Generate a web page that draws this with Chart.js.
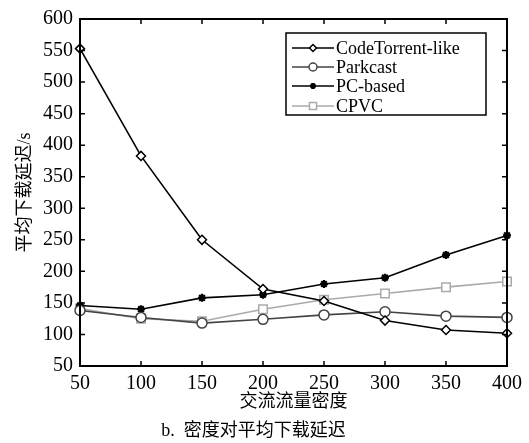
<!DOCTYPE html>
<html>
<head>
<meta charset="utf-8">
<script src="https://cdn.jsdelivr.net/npm/chart.js@4"></script>
<style>
  html, body { margin: 0; padding: 0; background: #fff; }
  #wrap { width: 529px; height: 443px; }
</style>
</head>
<body>
<div id="wrap"><canvas id="myChart" width="529" height="443"></canvas></div>
<script>
const densities = [50, 100, 150, 200, 250, 300, 350, 400];
const codeTorrent = [553, 383, 250, 172, 153, 122, 107, 102];
const parkcast = [138, 127, 118, 124, 131, 136, 129, 127];
const pcBased = [146, 140, 158, 163, 180, 190, 226, 257];
const cpvc = [141, 125, 121, 140, 155, 165, 175, 184];
const yTicks = [50, 100, 150, 200, 250, 300, 350, 400, 450, 500, 550, 600];

const serif = '"Liberation Serif", "Times New Roman", serif';
const cjk = '"Liberation Serif", "Noto Sans CJK SC", serif';

const pts = arr => arr.map((v, i) => ({ x: densities[i], y: v }));

// box + inward ticks on all four sides, and the framed legend
const framePlugin = {
  id: 'frame',
  afterDatasetsDraw(chart) {
    const { ctx, chartArea: a, scales } = chart;
    ctx.save();
    ctx.strokeStyle = '#000';
    ctx.lineWidth = 1.5;
    ctx.beginPath();
    densities.forEach(v => {
      const px = scales.x.getPixelForValue(v);
      ctx.moveTo(px, a.bottom); ctx.lineTo(px, a.bottom - 5);
      ctx.moveTo(px, a.top); ctx.lineTo(px, a.top + 5);
    });
    yTicks.forEach(v => {
      const py = scales.y.getPixelForValue(v);
      ctx.moveTo(a.left, py); ctx.lineTo(a.left + 5, py);
      ctx.moveTo(a.right, py); ctx.lineTo(a.right - 5, py);
    });
    ctx.stroke();
    ctx.lineWidth = 2;
    ctx.strokeRect(a.left, a.top, a.right - a.left, a.bottom - a.top);

    // legend
    const bx = 286, by = 33, bw = 200, bh = 82;
    ctx.fillStyle = '#fff';
    ctx.fillRect(bx, by, bw, bh);
    ctx.save();
    ctx.beginPath();
    ctx.rect(bx, by, bw, bh);
    ctx.clip();
    const rows = [48, 67, 86, 106];
    chart.data.datasets.forEach((ds, i) => {
      const y = rows[i];
      ctx.strokeStyle = ds.borderColor;
      ctx.lineWidth = ds.borderWidth;
      ctx.beginPath();
      ctx.moveTo(292, y); ctx.lineTo(334, y);
      ctx.stroke();
      ctx.fillStyle = ds.pointBackgroundColor;
      ctx.strokeStyle = ds.borderColor;
      ctx.lineWidth = ds.pointBorderWidth;
      Chart.helpers.drawPoint(ctx, {
        pointStyle: ds.pointStyle, radius: ds.pointRadius - 1, rotation: 0,
        borderWidth: ds.pointBorderWidth
      }, 313, y);
      ctx.fillStyle = '#000';
      ctx.font = '18px ' + serif;
      ctx.textBaseline = 'middle';
      ctx.fillText(ds.label, 336, y + 1.5);
    });
    ctx.restore();
    ctx.strokeStyle = '#000';
    ctx.lineWidth = 1.5;
    ctx.strokeRect(bx, by, bw, bh);
    ctx.restore();
  }
};

const mk = (label, data, color, style, radius) => ({
  label: label,
  data: pts(data),
  borderColor: color,
  backgroundColor: color,
  pointBackgroundColor: style === 'star' ? color : '#fff',
  pointBorderColor: color,
  pointStyle: style,
  pointRadius: radius,
  pointBorderWidth: style === 'star' ? 2.2 : 1.5,
  borderWidth: 1.6,
  tension: 0,
  fill: false
});

const ctx = document.getElementById('myChart');
new Chart(ctx, {
  type: 'line',
  data: {
    datasets: [
      mk('CodeTorrent-like', codeTorrent, '#000', 'rectRot', 4.5),
      mk('Parkcast', parkcast, '#444', 'circle', 5),
      mk('PC-based', pcBased, '#000', 'star', 4),
      mk('CPVC', cpvc, '#aaa', 'rect', 6)
    ]
  },
  options: {
    responsive: false,
    animation: false,
    clip: false,
    layout: { padding: { left: 0, right: 22, top: 16, bottom: 0 } },
    plugins: {
      legend: { display: false },
      tooltip: { enabled: false },
      title: {
        display: true,
        position: 'bottom',
        text: 'b.  密度对平均下载延迟',
        color: '#000',
        font: { family: cjk, size: 18, weight: 'normal' },
        padding: { top: 4, bottom: 1 }
      }
    },
    scales: {
      x: {
        type: 'linear',
        min: 50, max: 400,
        afterBuildTicks: s => { s.ticks = densities.map(v => ({ value: v })); },
        afterFit: s => { s.height = 50.4; },
        grid: { display: false, drawTicks: false },
        border: { display: false },
        ticks: { color: '#000', padding: 6, maxRotation: 0, font: { family: serif, size: 20 } },
        title: {
          display: true, text: '交流流量密度', color: '#000',
          font: { family: cjk, size: 18 }, padding: { top: 0, bottom: 3.6 }
        }
      },
      y: {
        min: 50, max: 600,
        afterBuildTicks: s => { s.ticks = yTicks.map(v => ({ value: v })); },
        afterFit: s => { s.width = 80; },
        grid: { display: false, drawTicks: false },
        border: { display: false },
        ticks: { color: '#000', padding: 7, font: { family: serif, size: 20 } },
        title: {
          display: true, text: '平均下载延迟/s', color: '#000',
          font: { family: cjk, size: 18 }, padding: { top: 14, bottom: 0 }
        }
      }
    }
  },
  plugins: [framePlugin]
});
</script>
</body>
</html>
